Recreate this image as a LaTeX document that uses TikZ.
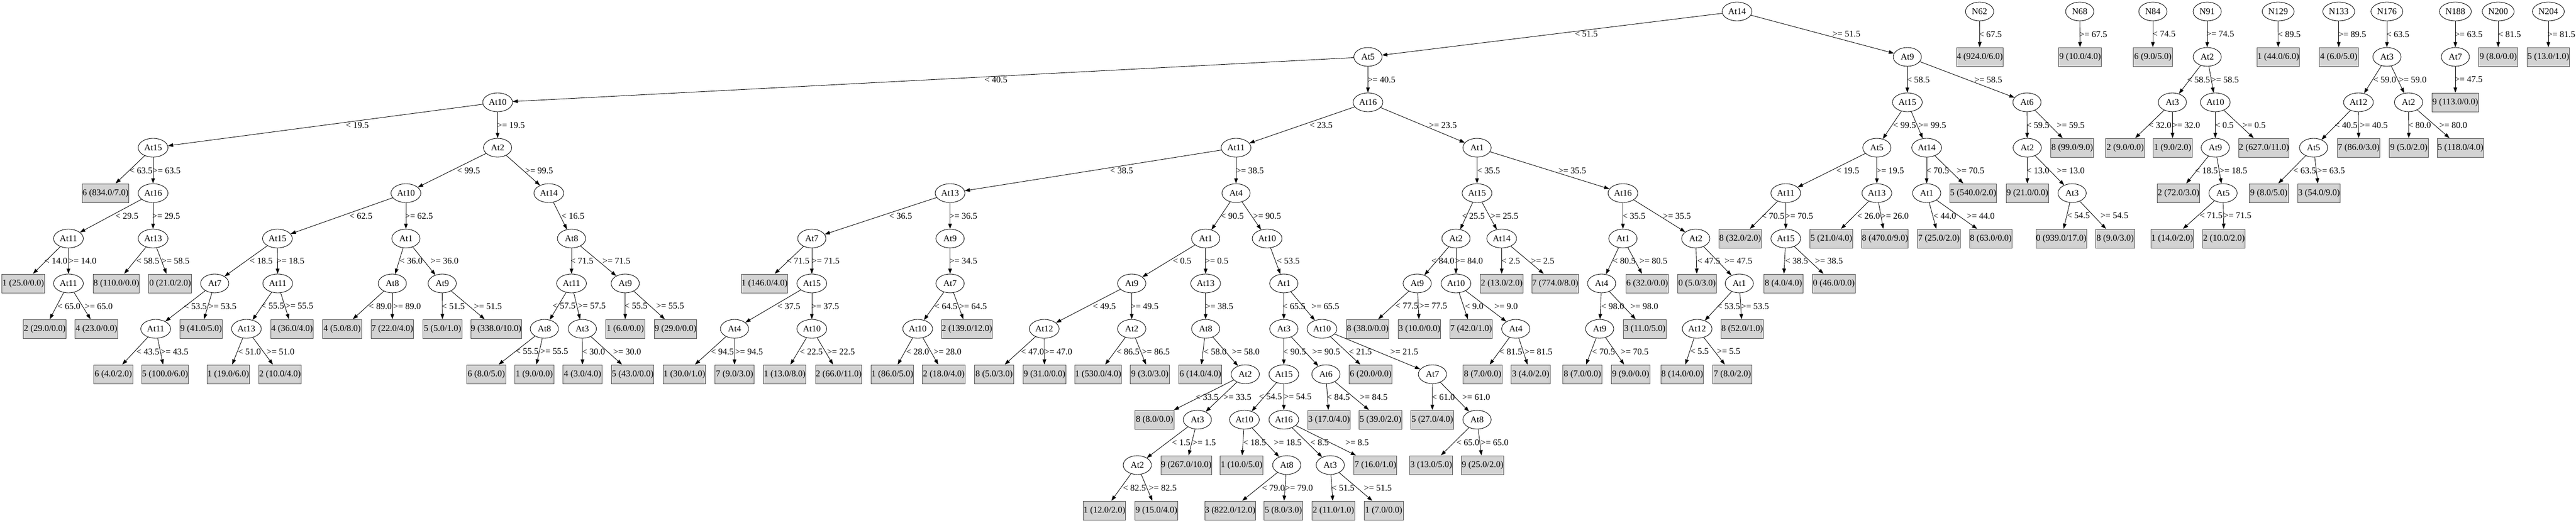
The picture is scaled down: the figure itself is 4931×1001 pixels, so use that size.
\documentclass[tikz,border=0pt]{standalone}
\usepackage{fontspec}
\setmainfont{Liberation Serif}
\usetikzlibrary{shapes.geometric,arrows.meta}
\definecolor{lgray}{HTML}{D3D3D3}
\tikzset{
  att/.style={ellipse, draw=black, line width=0.9bp, minimum width=54bp, minimum height=36bp, inner sep=0pt},
  attw/.style={att, minimum width=57bp},
  attn/.style={att, minimum width=61bp},
  leaf/.style={rectangle, draw=black!70, line width=1bp, fill=lgray, minimum height=36bp, inner xsep=0pt, inner ysep=0pt},
  lA/.style={leaf, minimum width=74.7bp},
  lB/.style={leaf, minimum width=81.7bp},
  lC/.style={leaf, minimum width=88.7bp},
  lD/.style={leaf, minimum width=95.7bp},
  conn/.style={draw=black, line width=0.9bp, -{Triangle[length=10bp,width=7bp]}},
  elab/.style={inner sep=0pt}
}
\newcommand\E[5]{\draw[conn] (#1) -- (#2); \node[elab] (l#2) at (#4,#5) {#3};}
\begin{document}
\begin{tikzpicture}[x=1bp, y=-1bp, font=\fontsize{17bp}{20bp}\selectfont]
\fill[white] (0,0) rectangle (4931,1001);
\useasboundingbox (0,0) rectangle (4931,1001);
% ---------- nodes ----------
\node[attw] (n1) at (3325,22) {At14};
\node[att] (n2) at (2618.5,109) {At5};
\node[attw] (n3) at (952.5,196) {At10};
\node[attw] (n4) at (293,283) {At15};
\node[lC] (n5) at (202,370) {6 (834.0/7.0)};
\node[attw] (n6) at (293,370) {At16};
\node[attw] (n7) at (131,457) {At11};
\node[lB] (n8) at (44.5,543) {1 (25.0/0.0)};
\node[attw] (n9) at (131,543) {At11};
\node[lB] (n10) at (85.6,630) {2 (29.0/0.0)};
\node[lB] (n11) at (184.7,630) {4 (23.0/0.0)};
\node[attw] (n12) at (293,457) {At13};
\node[lC] (n13) at (222.6,543) {8 (110.0/0.0)};
\node[lB] (n14) at (325.7,543) {0 (21.0/2.0)};
\node[att] (n15) at (952.5,283) {At2};
\node[attw] (n16) at (777,370) {At10};
\node[attw] (n17) at (531,457) {At15};
\node[att] (n18) at (411,543) {At7};
\node[attw] (n19) at (298,630) {At11};
\node[lA] (n20) at (216.8,717) {6 (4.0/2.0)};
\node[lC] (n21) at (316,717) {5 (100.0/6.0)};
\node[lB] (n22) at (385,630) {9 (41.0/5.0)};
\node[attw] (n23) at (531.6,543) {At11};
\node[attw] (n24) at (471.7,630) {At13};
\node[lB] (n25) at (437,717) {1 (19.0/6.0)};
\node[lB] (n26) at (536,717) {2 (10.0/4.0)};
\node[lB] (n27) at (559,630) {4 (36.0/4.0)};
\node[att] (n28) at (777,457) {At1};
\node[att] (n29) at (751,543) {At8};
\node[lA] (n30) at (655,630) {4 (5.0/8.0)};
\node[lB] (n31) at (751,630) {7 (22.0/4.0)};
\node[att] (n32) at (846.5,543) {At9};
\node[lA] (n33) at (847,630) {5 (5.0/1.0)};
\node[lD] (n34) at (949.6,630) {9 (338.0/10.0)};
\node[attw] (n35) at (1050.5,370) {At14};
\node[att] (n36) at (1094,457) {At8};
\node[attw] (n37) at (1094,543) {At11};
\node[att] (n38) at (1042,630) {At8};
\node[lA] (n39) at (930.8,717) {6 (8.0/5.0)};
\node[lA] (n40) at (1022.7,717) {1 (9.0/0.0)};
\node[att] (n41) at (1114.7,630) {At3};
\node[lA] (n42) at (1115,717) {4 (3.0/4.0)};
\node[lB] (n43) at (1211,717) {5 (43.0/0.0)};
\node[att] (n44) at (1196.8,543) {At9};
\node[lA] (n45) at (1196.8,630) {1 (6.0/0.0)};
\node[lB] (n46) at (1293,630) {9 (29.0/0.0)};
\node[attw] (n47) at (2618.5,196) {At16};
\node[attw] (n48) at (2366,283) {At11};
\node[attw] (n49) at (1818.6,370) {At13};
\node[att] (n50) at (1554,457) {At7};
\node[lC] (n51) at (1463.4,543) {1 (146.0/4.0)};
\node[attw] (n52) at (1554,543) {At15};
\node[att] (n53) at (1406,630) {At4};
\node[lB] (n54) at (1310,717) {1 (30.0/1.0)};
\node[lA] (n55) at (1406,717) {7 (9.0/3.0)};
\node[attw] (n56) at (1554,630) {At10};
\node[lB] (n57) at (1502,717) {1 (13.0/8.0)};
\node[lC] (n58) at (1605.5,717) {2 (66.0/11.0)};
\node[att] (n59) at (1818.6,457) {At9};
\node[att] (n60) at (1818.6,543) {At7};
\node[attw] (n61) at (1756.6,630) {At10};
\node[lB] (n62) at (1708,717) {1 (86.0/5.0)};
\node[lB] (n63) at (1806.7,717) {2 (18.0/4.0)};
\node[lD] (n64) at (1850.9,630) {2 (139.0/12.0)};
\node[att] (n65) at (2366,370) {At4};
\node[att] (n66) at (2307.8,457) {At1};
\node[att] (n67) at (2166.3,543) {At9};
\node[attw] (n68) at (1998.8,630) {At12};
\node[lA] (n69) at (1902.9,717) {8 (5.0/3.0)};
\node[lB] (n70) at (1999.3,717) {9 (31.0/0.0)};
\node[att] (n71) at (2166.3,630) {At2};
\node[lC] (n72) at (2102,717) {1 (530.0/4.0)};
\node[lA] (n73) at (2201,717) {9 (3.0/3.0)};
\node[attw] (n74) at (2307.8,543) {At13};
\node[att] (n75) at (2307.8,630) {At8};
\node[lB] (n76) at (2297.7,717) {6 (14.0/4.0)};
\node[att] (n77) at (2383.6,717) {At2};
\node[lA] (n78) at (2210,804) {8 (8.0/0.0)};
\node[att] (n79) at (2292,804) {At3};
\node[att] (n80) at (2177,891) {At2};
\node[lB] (n81) at (2114,978) {1 (12.0/2.0)};
\node[lB] (n82) at (2213.5,978) {9 (15.0/4.0)};
\node[lD] (n83) at (2270.7,891) {9 (267.0/10.0)};
\node[attw] (n84) at (2425.5,457) {At10};
\node[att] (n85) at (2457.5,543) {At1};
\node[att] (n86) at (2457.5,630) {At3};
\node[attw] (n87) at (2457.5,717) {At15};
\node[attw] (n88) at (2382,804) {At10};
\node[lB] (n89) at (2376.7,891) {1 (10.0/5.0)};
\node[att] (n90) at (2463,891) {At8};
\node[lD] (n91) at (2354.7,978) {3 (822.0/12.0)};
\node[lA] (n92) at (2456.5,978) {5 (8.0/3.0)};
\node[attw] (n93) at (2457.5,804) {At16};
\node[att] (n94) at (2546.4,891) {At3};
\node[lB] (n95) at (2552.5,978) {2 (11.0/1.0)};
\node[lA] (n96) at (2648.7,978) {1 (7.0/0.0)};
\node[lB] (n97) at (2632.8,891) {7 (16.0/1.0)};
\node[att] (n98) at (2538,717) {At6};
\node[lB] (n99) at (2544,804) {3 (17.0/4.0)};
\node[lB] (n100) at (2642.6,804) {5 (39.0/2.0)};
\node[attw] (n101) at (2530.5,630) {At10};
\node[lB] (n102) at (2623.8,717) {6 (20.0/0.0)};
\node[att] (n103) at (2742,717) {At7};
\node[lB] (n104) at (2741.7,804) {5 (27.0/4.0)};
\node[att] (n105) at (2827.3,804) {At8};
\node[lB] (n106) at (2739.6,891) {3 (13.0/5.0)};
\node[lB] (n107) at (2838,891) {9 (25.0/2.0)};
\node[att] (n108) at (2827.3,283) {At1};
\node[attw] (n109) at (2827.3,370) {At15};
\node[att] (n110) at (2787,457) {At2};
\node[att] (n111) at (2712.8,543) {At9};
\node[lB] (n112) at (2618,630) {8 (38.0/0.0)};
\node[lB] (n113) at (2717,630) {3 (10.0/0.0)};
\node[attw] (n114) at (2787,543) {At10};
\node[lB] (n115) at (2816,630) {7 (42.0/1.0)};
\node[att] (n116) at (2901.5,630) {At4};
\node[lA] (n117) at (2838,717) {8 (7.0/0.0)};
\node[lA] (n118) at (2930,717) {3 (4.0/2.0)};
\node[attw] (n119) at (2874.5,457) {At14};
\node[lB] (n120) at (2874.5,543) {2 (13.0/2.0)};
\node[lC] (n121) at (2977,543) {7 (774.0/8.0)};
\node[attw] (n122) at (3106.6,370) {At16};
\node[att] (n123) at (3106.6,457) {At1};
\node[att] (n124) at (3065.8,543) {At4};
\node[att] (n125) at (3062,630) {At9};
\node[lA] (n126) at (3029,717) {8 (7.0/0.0)};
\node[lA] (n127) at (3121.4,717) {9 (9.0/0.0)};
\node[lB] (n128) at (3148.5,630) {3 (11.0/5.0)};
\node[lB] (n129) at (3153,543) {6 (32.0/0.0)};
\node[att] (n130) at (3246,457) {At2};
\node[lA] (n131) at (3248.6,543) {0 (5.0/3.0)};
\node[att] (n132) at (3329.3,543) {At1};
\node[attw] (n133) at (3248.6,630) {At12};
\node[lB] (n134) at (3220,717) {8 (14.0/0.0)};
\node[lA] (n135) at (3316,717) {7 (8.0/2.0)};
\node[lB] (n136) at (3334.9,630) {8 (52.0/1.0)};
\node[att] (n137) at (3651,109) {At9};
\node[attw] (n138) at (3651,196) {At15};
\node[att] (n139) at (3592.7,283) {At5};
\node[attw] (n140) at (3418.3,370) {At11};
\node[lB] (n141) at (3331,457) {8 (32.0/2.0)};
\node[attw] (n142) at (3418.3,457) {At15};
\node[lA] (n143) at (3413.8,543) {8 (4.0/4.0)};
\node[lB] (n144) at (3510.3,543) {0 (46.0/0.0)};
\node[attw] (n145) at (3592.7,370) {At13};
\node[lB] (n146) at (3505.5,457) {5 (21.0/4.0)};
\node[lC] (n147) at (3608.3,457) {8 (470.0/9.0)};
\node[attw] (n148) at (3688,283) {At14};
\node[att] (n149) at (3688,370) {At1};
\node[lB] (n150) at (3711.4,457) {7 (25.0/2.0)};
\node[lB] (n151) at (3810.8,457) {8 (63.0/0.0)};
\node[lC] (n152) at (3777,370) {5 (540.0/2.0)};
\node[att] (n153) at (3880,196) {At6};
\node[att] (n154) at (3880.5,283) {At2};
\node[lB] (n155) at (3880.8,370) {9 (21.0/0.0)};
\node[att] (n156) at (3966.4,370) {At3};
\node[lD] (n157) at (3945.7,457) {0 (939.0/17.0)};
\node[lA] (n158) at (4048.8,457) {8 (9.0/3.0)};
\node[lB] (n159) at (3966.6,283) {8 (99.0/9.0)};
\node[att] (n160) at (3789.3,22) {N62};
\node[lC] (n161) at (3789.6,109) {4 (924.0/6.0)};
\node[att] (n162) at (3981,22) {N68};
\node[lB] (n163) at (3981.7,109) {9 (10.0/4.0)};
\node[att] (n164) at (4121,22) {N84};
\node[lA] (n165) at (4121,109) {6 (9.0/5.0)};
\node[att] (n166) at (4225,22) {N91};
\node[att] (n167) at (4225,109) {At2};
\node[att] (n168) at (4158.3,196) {At3};
\node[lA] (n169) at (4068,283) {2 (9.0/0.0)};
\node[lA] (n170) at (4158.8,283) {1 (9.0/2.0)};
\node[attw] (n171) at (4240.5,196) {At10};
\node[att] (n172) at (4240.5,283) {At9};
\node[lB] (n173) at (4170,370) {2 (72.0/3.0)};
\node[att] (n174) at (4255.3,370) {At5};
\node[lB] (n175) at (4158,457) {1 (14.0/2.0)};
\node[lB] (n176) at (4257,457) {2 (10.0/2.0)};
\node[lD] (n177) at (4333.7,283) {2 (627.0/11.0)};
\node[attn] (n178) at (4360.8,22) {N129};
\node[lB] (n179) at (4361,109) {1 (44.0/6.0)};
\node[attn] (n180) at (4476.8,22) {N133};
\node[lA] (n181) at (4476.8,109) {4 (6.0/5.0)};
\node[attn] (n182) at (4569,22) {N176};
\node[att] (n183) at (4569,109) {At3};
\node[attw] (n184) at (4514.5,196) {At12};
\node[att] (n185) at (4428.6,283) {At5};
\node[lA] (n186) at (4343,370) {9 (8.0/5.0)};
\node[lB] (n187) at (4439,370) {3 (54.0/9.0)};
\node[lB] (n188) at (4515,283) {7 (86.0/3.0)};
\node[att] (n189) at (4610.4,196) {At2};
\node[lA] (n190) at (4611,283) {9 (5.0/2.0)};
\node[lC] (n191) at (4710,283) {5 (118.0/4.0)};
\node[attn] (n192) at (4700,22) {N188};
\node[att] (n193) at (4700,109) {At7};
\node[lC] (n194) at (4700,196) {9 (113.0/0.0)};
\node[attn] (n195) at (4782,22) {N200};
\node[lA] (n196) at (4782,109) {9 (8.0/0.0)};
\node[attn] (n197) at (4878,22) {N204};
\node[lB] (n198) at (4878,109) {5 (13.0/1.0)};
% ---------- connectors ----------
\E{n1}{n2}{< 51.5}{3036.6}{65.5}
\E{n2}{n3}{< 40.5}{1906.6}{152.5}
\E{n3}{n4}{< 19.5}{684}{239.5}
\E{n4}{n5}{< 63.5}{270}{326.5}
\E{n4}{n6}{>= 63.5}{319}{326.5}
\E{n6}{n7}{< 29.5}{243}{413.5}
\E{n7}{n8}{< 14.0}{107}{500}
\E{n7}{n9}{>= 14.0}{158}{500}
\E{n9}{n10}{< 65.0}{132}{586.5}
\E{n9}{n11}{>= 65.0}{189}{586.5}
\E{n6}{n12}{>= 29.5}{318}{413.5}
\E{n12}{n13}{< 58.5}{283}{500}
\E{n12}{n14}{>= 58.5}{336}{500}
\E{n3}{n15}{>= 19.5}{978}{239.5}
\E{n15}{n16}{< 99.5}{897}{326.5}
\E{n16}{n17}{< 62.5}{691}{413.5}
\E{n17}{n18}{< 18.5}{500}{500}
\E{n18}{n19}{< 53.5}{374}{586.5}
\E{n19}{n20}{< 43.5}{283}{673.5}
\E{n19}{n21}{>= 43.5}{334}{673.5}
\E{n18}{n22}{>= 53.5}{426}{586.5}
\E{n17}{n23}{>= 18.5}{556}{500}
\E{n23}{n24}{< 55.5}{522}{586.5}
\E{n24}{n25}{< 51.0}{477.6}{673.5}
\E{n24}{n26}{>= 51.0}{537}{673.5}
\E{n23}{n27}{>= 55.5}{573}{586.5}
\E{n16}{n28}{>= 62.5}{802}{413.5}
\E{n28}{n29}{< 36.0}{787}{500}
\E{n29}{n30}{< 89.0}{728}{586.5}
\E{n29}{n31}{>= 89.0}{779}{586.5}
\E{n28}{n32}{>= 36.0}{851}{500}
\E{n32}{n33}{< 51.5}{867.7}{586.5}
\E{n32}{n34}{>= 51.5}{934}{586.5}
\E{n15}{n35}{>= 99.5}{1032}{326.5}
\E{n35}{n36}{< 16.5}{1096.7}{413.5}
\E{n36}{n37}{< 71.5}{1114}{500}
\E{n37}{n38}{< 57.5}{1079.7}{586.5}
\E{n38}{n39}{< 55.5}{1009}{673.5}
\E{n38}{n40}{>= 55.5}{1061}{673.5}
\E{n37}{n41}{>= 57.5}{1132.7}{586.5}
\E{n41}{n42}{< 30.0}{1136.4}{673.5}
\E{n41}{n43}{>= 30.0}{1200.5}{673.5}
\E{n36}{n44}{>= 71.5}{1180}{500}
\E{n44}{n45}{< 55.5}{1217.5}{586.5}
\E{n44}{n46}{>= 55.5}{1282.7}{586.5}
\E{n2}{n47}{>= 40.5}{2644.4}{152.5}
\E{n47}{n48}{< 23.5}{2529}{239.5}
\E{n48}{n49}{< 38.5}{2147}{326.5}
\E{n49}{n50}{< 36.5}{1724}{413.5}
\E{n50}{n51}{< 71.5}{1527.6}{500}
\E{n50}{n52}{>= 71.5}{1580.5}{500}
\E{n52}{n53}{< 37.5}{1510}{586.5}
\E{n53}{n54}{< 94.5}{1382.9}{673.5}
\E{n53}{n55}{>= 94.5}{1433.7}{673.5}
\E{n52}{n56}{>= 37.5}{1579.5}{586.5}
\E{n56}{n57}{< 22.5}{1553}{673.5}
\E{n56}{n58}{>= 22.5}{1609.7}{673.5}
\E{n49}{n59}{>= 36.5}{1844}{413.5}
\E{n59}{n60}{>= 34.5}{1844}{500}
\E{n60}{n61}{< 64.5}{1810.7}{586.5}
\E{n61}{n62}{< 28.0}{1756.6}{673.5}
\E{n61}{n63}{>= 28.0}{1813.8}{673.5}
\E{n60}{n64}{>= 64.5}{1862.6}{586.5}
\E{n48}{n65}{>= 38.5}{2392.6}{326.5}
\E{n65}{n66}{< 90.5}{2359}{413.5}
\E{n66}{n67}{< 0.5}{2262.8}{500}
\E{n67}{n68}{< 49.5}{2114}{586.5}
\E{n68}{n69}{< 47.0}{1976.5}{673.5}
\E{n68}{n70}{>= 47.0}{2025.8}{673.5}
\E{n67}{n71}{>= 49.5}{2191}{586.5}
\E{n71}{n72}{< 86.5}{2159.4}{673.5}
\E{n71}{n73}{>= 86.5}{2212.4}{673.5}
\E{n66}{n74}{>= 0.5}{2329}{500}
\E{n74}{n75}{>= 38.5}{2334}{586.5}
\E{n75}{n76}{< 58.0}{2326}{673.5}
\E{n75}{n77}{>= 58.0}{2384.6}{673.5}
\E{n77}{n78}{< 33.5}{2310.5}{760.5}
\E{n77}{n79}{>= 33.5}{2368.8}{760.5}
\E{n79}{n80}{< 1.5}{2261}{847.5}
\E{n80}{n81}{< 82.5}{2171.6}{934.5}
\E{n80}{n82}{>= 82.5}{2225.7}{934.5}
\E{n79}{n83}{>= 1.5}{2305}{847.5}
\E{n65}{n84}{>= 90.5}{2425.5}{413.5}
\E{n84}{n85}{< 53.5}{2466}{500}
\E{n85}{n86}{< 65.5}{2477}{586.5}
\E{n86}{n87}{< 90.5}{2478}{673.5}
\E{n87}{n88}{< 54.5}{2432}{760.5}
\E{n88}{n89}{< 18.5}{2401.6}{847.5}
\E{n88}{n90}{>= 18.5}{2465}{847.5}
\E{n90}{n91}{< 79.0}{2437.6}{934.5}
\E{n90}{n92}{>= 79.0}{2486.5}{934.5}
\E{n87}{n93}{>= 54.5}{2484}{760.5}
\E{n93}{n94}{< 8.5}{2526}{847.5}
\E{n94}{n95}{< 51.5}{2571}{934.5}
\E{n94}{n96}{>= 51.5}{2637.5}{934.5}
\E{n93}{n97}{>= 8.5}{2597.8}{847.5}
\E{n86}{n98}{>= 90.5}{2538.4}{673.5}
\E{n98}{n99}{< 84.5}{2562}{760.5}
\E{n98}{n100}{>= 84.5}{2629.6}{760.5}
\E{n85}{n101}{>= 65.5}{2537}{586.5}
\E{n101}{n102}{< 21.5}{2604}{673.5}
\E{n101}{n103}{>= 21.5}{2688}{673.5}
\E{n103}{n104}{< 61.0}{2763}{760.5}
\E{n103}{n105}{>= 61.0}{2825.7}{760.5}
\E{n105}{n106}{< 65.0}{2809.8}{847.5}
\E{n105}{n107}{>= 65.0}{2861}{847.5}
\E{n47}{n108}{>= 23.5}{2762}{239.5}
\E{n108}{n109}{< 35.5}{2849.6}{326.5}
\E{n109}{n110}{< 25.5}{2820.4}{413.5}
\E{n110}{n111}{< 84.0}{2762}{500}
\E{n111}{n112}{< 77.5}{2693}{586.5}
\E{n111}{n113}{>= 77.5}{2743.5}{586.5}
\E{n110}{n114}{>= 84.0}{2812}{500}
\E{n114}{n115}{< 9.0}{2822}{586.5}
\E{n114}{n116}{>= 9.0}{2883}{586.5}
\E{n116}{n117}{< 81.5}{2892}{673.5}
\E{n116}{n118}{>= 81.5}{2945}{673.5}
\E{n109}{n119}{>= 25.5}{2879.8}{413.5}
\E{n119}{n120}{< 2.5}{2892}{500}
\E{n119}{n121}{>= 2.5}{2953}{500}
\E{n108}{n122}{>= 35.5}{3009.6}{326.5}
\E{n122}{n123}{< 35.5}{3127.8}{413.5}
\E{n123}{n124}{< 80.5}{3109}{500}
\E{n124}{n125}{< 98.0}{3087}{586.5}
\E{n125}{n126}{< 70.5}{3069.5}{673.5}
\E{n125}{n127}{>= 70.5}{3129}{673.5}
\E{n124}{n128}{>= 98.0}{3147.4}{586.5}
\E{n123}{n129}{>= 80.5}{3165}{500}
\E{n122}{n130}{>= 35.5}{3210}{413.5}
\E{n130}{n131}{< 47.5}{3271}{500}
\E{n130}{n132}{>= 47.5}{3327.7}{500}
\E{n132}{n133}{< 53.5}{3309}{586.5}
\E{n133}{n134}{< 5.5}{3253.4}{673.5}
\E{n133}{n135}{>= 5.5}{3309}{673.5}
\E{n132}{n136}{>= 53.5}{3359.5}{586.5}
\E{n1}{n137}{>= 51.5}{3534.4}{65.5}
\E{n137}{n138}{< 58.5}{3672}{152.5}
\E{n138}{n139}{< 99.5}{3645.7}{239.5}
\E{n139}{n140}{< 19.5}{3537}{326.5}
\E{n140}{n141}{< 70.5}{3394}{413.5}
\E{n140}{n142}{>= 70.5}{3444}{413.5}
\E{n142}{n143}{< 38.5}{3439}{500}
\E{n142}{n144}{>= 38.5}{3501}{500}
\E{n139}{n145}{>= 19.5}{3618}{326.5}
\E{n145}{n146}{< 26.0}{3576.8}{413.5}
\E{n145}{n147}{>= 26.0}{3627}{413.5}
\E{n138}{n148}{>= 99.5}{3698.7}{239.5}
\E{n148}{n149}{< 70.5}{3709}{326.5}
\E{n149}{n150}{< 44.0}{3722.6}{413.5}
\E{n149}{n151}{>= 44.0}{3791.5}{413.5}
\E{n148}{n152}{>= 70.5}{3771.8}{326.5}
\E{n137}{n153}{>= 58.5}{3806}{152.5}
\E{n153}{n154}{< 59.5}{3901}{239.5}
\E{n154}{n155}{< 13.0}{3901}{326.5}
\E{n154}{n156}{>= 13.0}{3963.7}{326.5}
\E{n156}{n157}{< 54.5}{3978.5}{413.5}
\E{n156}{n158}{>= 54.5}{4047.4}{413.5}
\E{n153}{n159}{>= 59.5}{3963.7}{239.5}
\E{n160}{n161}{< 67.5}{3810}{65.5}
\E{n162}{n163}{>= 67.5}{4007}{65.5}
\E{n164}{n165}{< 74.5}{4142.4}{65.5}
\E{n166}{n167}{>= 74.5}{4250}{65.5}
\E{n167}{n168}{< 58.5}{4208.6}{152.5}
\E{n168}{n169}{< 32.0}{4134.5}{239.5}
\E{n168}{n170}{>= 32.0}{4184.8}{239.5}
\E{n167}{n171}{>= 58.5}{4259}{152.5}
\E{n171}{n172}{< 0.5}{4258}{239.5}
\E{n172}{n173}{< 18.5}{4223.5}{326.5}
\E{n172}{n174}{>= 18.5}{4275}{326.5}
\E{n174}{n175}{< 71.5}{4232.5}{413.5}
\E{n174}{n176}{>= 71.5}{4283}{413.5}
\E{n171}{n177}{>= 0.5}{4314.6}{239.5}
\E{n178}{n179}{< 89.5}{4382}{65.5}
\E{n180}{n181}{>= 89.5}{4502.8}{65.5}
\E{n182}{n183}{< 63.5}{4590}{65.5}
\E{n183}{n184}{< 59.0}{4564.8}{152.5}
\E{n184}{n185}{< 40.5}{4491}{239.5}
\E{n185}{n186}{< 63.5}{4411.6}{326.5}
\E{n185}{n187}{>= 63.5}{4462}{326.5}
\E{n184}{n188}{>= 40.5}{4544}{239.5}
\E{n183}{n189}{>= 59.0}{4618.3}{152.5}
\E{n189}{n190}{< 80.0}{4631.6}{239.5}
\E{n189}{n191}{>= 80.0}{4696}{239.5}
\E{n192}{n193}{>= 63.5}{4725.4}{65.5}
\E{n193}{n194}{>= 47.5}{4725.4}{152.5}
\E{n195}{n196}{< 81.5}{4803.8}{65.5}
\E{n197}{n198}{>= 81.5}{4903}{65.5}
\end{tikzpicture}
\end{document}
